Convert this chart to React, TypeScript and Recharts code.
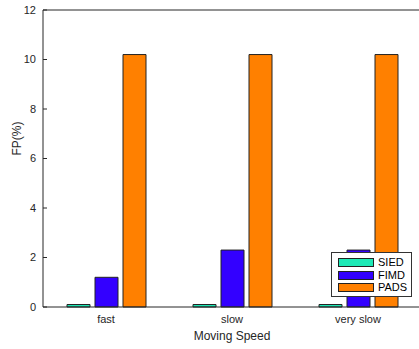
import { BarChart, Bar, XAxis, YAxis, Legend } from 'recharts'

// values
const speeds = ['fast', 'slow', 'very slow']
const sied = [0.1, 0.1, 0.1]
const fimd = [1.2, 2.3, 2.3]
const pads = [10.2, 10.2, 10.2]
const yTicks = [0, 2, 4, 6, 8, 10, 12]

const series = [
  { key: 'SIED', color: '#1de9b6' },
  { key: 'FIMD', color: '#3300ff' },
  { key: 'PADS', color: '#ff8000' },
]

const data = speeds.map((speed, i) => ({
  speed,
  SIED: sied[i],
  FIMD: fimd[i],
  PADS: pads[i],
}))

const axisColor = '#262626'
const font = 'Liberation Sans, Arial, sans-serif'

function LegendBox() {
  return (
    <div
      style={{
        border: '1px solid #333',
        background: '#fff',
        padding: '3px 4px 2px 6px',
        fontFamily: font,
        fontSize: 11,
        color: '#000',
        lineHeight: '12.7px',
      }}
    >
      {series.map((s) => (
        <div key={s.key} style={{ display: 'flex', alignItems: 'center' }}>
          <span
            style={{
              display: 'inline-block',
              width: 34,
              height: 7,
              background: s.color,
              border: '1px solid #222',
              marginRight: 4,
            }}
          />
          <span>{s.key}</span>
        </div>
      ))}
    </div>
  )
}

export default function App() {
  return (
    <div style={{ position: 'absolute', left: 0, top: 0, width: 419, height: 349, overflow: 'hidden', background: '#fff' }}>
      <BarChart
        width={423}
        height={349}
        data={data}
        margin={{ top: 9, right: 1, bottom: 0, left: 0 }}
        barCategoryGap={24}
        barGap={5}
      >
        <XAxis
          dataKey="speed"
          stroke={axisColor}
          tickLine={false}
          tick={{ fill: axisColor, fontSize: 11, fontFamily: font }}
          height={42}
          label={{ value: 'Moving Speed', position: 'insideBottom', offset: 9, fill: axisColor, fontSize: 12, fontFamily: font }}
        />
        <XAxis
          xAxisId="top"
          orientation="top"
          dataKey="speed"
          stroke={axisColor}
          tick={false}
          tickSize={-4}
          height={1}
        />
        <YAxis
          domain={[0, 12]}
          ticks={yTicks}
          stroke={axisColor}
          width={43}
          tickSize={-4}
          tickMargin={11}
          tick={{ fill: axisColor, fontSize: 11, fontFamily: font }}
          label={{ value: 'FP(%)', angle: -90, position: 'insideLeft', offset: 17, dy: -3, fill: axisColor, fontSize: 12, fontFamily: font }}
        />
        <YAxis
          yAxisId="right"
          orientation="right"
          domain={[0, 12]}
          ticks={yTicks}
          stroke={axisColor}
          width={1}
          tickSize={-4}
          tick={false}
        />
        {series.map((s) => (
          <Bar
            key={s.key}
            dataKey={s.key}
            fill={s.color}
            stroke="#222"
            strokeWidth={1}
            isAnimationActive={false}
          />
        ))}
        <Legend
          layout="vertical"
          align="center"
          verticalAlign="middle"
          wrapperStyle={{ position: 'absolute', left: 331, top: 252, width: 'auto' }}
          content={() => <LegendBox />}
        />
      </BarChart>
    </div>
  )
}
